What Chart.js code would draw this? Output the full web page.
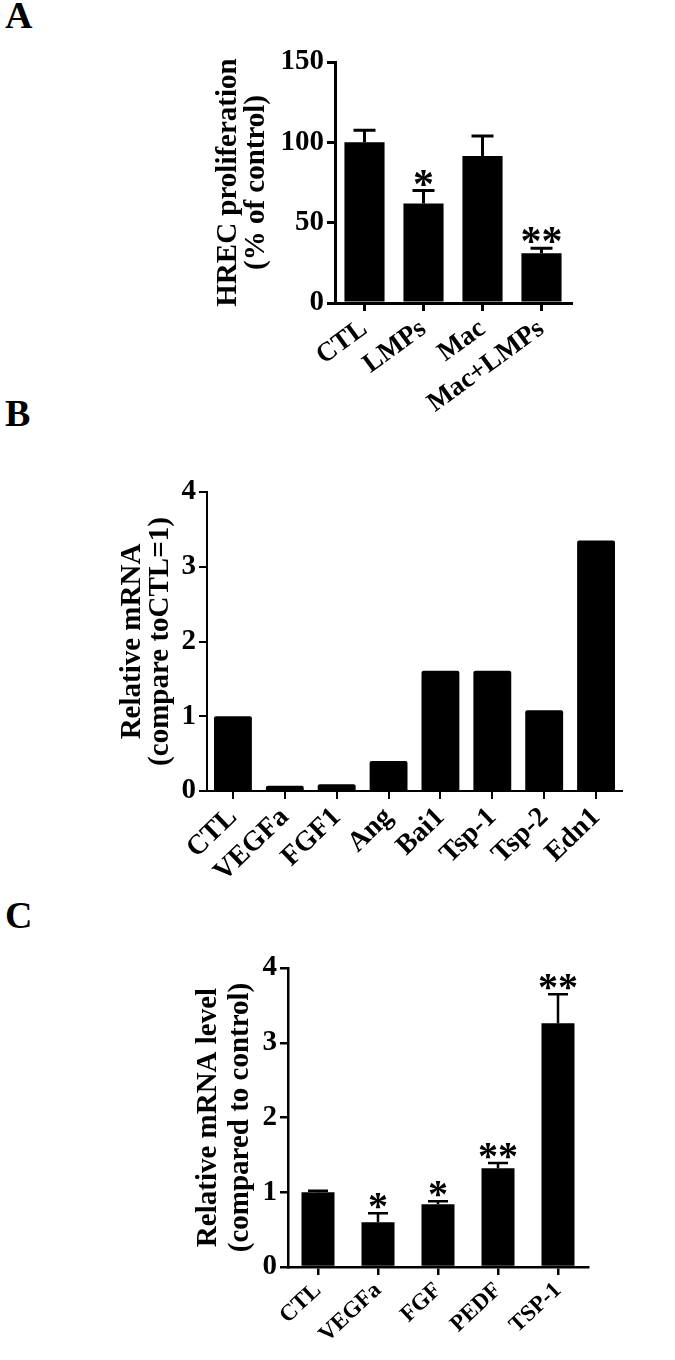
<!DOCTYPE html>
<html>
<head>
<meta charset="utf-8">
<script src="https://cdn.jsdelivr.net/npm/chart.js@4.4.1/dist/chart.umd.min.js"></script>
<style>
  body { margin: 0; background: #fff; }
  #wrap { position: relative; width: 675px; height: 1360px; overflow: hidden; }
  canvas { position: absolute; left: 0; }
  .tag { position: absolute; left: 5px; font: bold 38px 'Liberation Serif', 'Times New Roman', serif; line-height: 38px; color: #000; }
</style>
</head>
<body>
<div id="wrap">
  <div class="tag" style="top:-4px">A</div>
  <div class="tag" style="top:394px">B</div>
  <div class="tag" style="top:896px">C</div>
  <canvas id="chartA" style="top:0px"></canvas>
  <canvas id="chartB" style="top:420px"></canvas>
  <canvas id="chartC" style="top:900px"></canvas>
</div>
<script>
// panel A - HREC proliferation
const catA = ['CTL', 'LMPs', 'Mac', 'Mac+LMPs'];
const valA = [100, 62, 91.5, 31];
const errA = [107.5, 70, 104, 34];
const starA = ['', '*', '', '**'];
const ticksA = [0, 50, 100, 150];

// panel B - relative mRNA
const catB = ['CTL', 'VEGFa', 'FGF1', 'Ang', 'Bai1', 'Tsp-1', 'Tsp-2', 'Edn1'];
const valB = [1.0, 0.07, 0.09, 0.40, 1.61, 1.61, 1.08, 3.35];
const ticksB = [0, 1, 2, 3, 4];

// panel C - relative mRNA level
const catC = ['CTL', 'VEGFa', 'FGF', 'PEDF', 'TSP-1'];
const valC = [1.0, 0.60, 0.84, 1.32, 3.26];
const errC = [1.02, 0.72, 0.88, 1.39, 3.65];
const starC = ['', '*', '*', '**', '**'];
const ticksC = [0, 1, 2, 3, 4];

const serif = "'Liberation Serif', 'Times New Roman', serif";

const errorBars = {
	id: 'errorBars',
	afterDatasetsDraw(chart, args, opts) {
		if (!opts.err) return;
		const ctx = chart.ctx;
		const y = chart.scales.y;
		const meta = chart.getDatasetMeta(0);
		ctx.save();
		ctx.strokeStyle = '#000';
		ctx.fillStyle = '#000';
		ctx.lineWidth = opts.lineWidth;
		opts.err.forEach((e, i) => {
			const bar = meta.data[i];
			const top = y.getPixelForValue(e);
			ctx.beginPath();
			ctx.moveTo(bar.x, bar.y);
			ctx.lineTo(bar.x, top);
			ctx.moveTo(bar.x - opts.cap / 2, top);
			ctx.lineTo(bar.x + opts.cap / 2, top);
			ctx.stroke();
			const s = opts.stars[i];
			if (s) {
				ctx.font = 'bold ' + opts.starSize + 'px ' + serif;
				ctx.textAlign = 'center';
				ctx.textBaseline = 'alphabetic';
				const m = ctx.measureText(s);
				ctx.fillText(s, bar.x, top - opts.gap - m.actualBoundingBoxDescent);
			}
		});
		ctx.restore();
	}
};

function makePanel(id, p) {
	const canvas = document.getElementById(id);
	canvas.width = 675;
	canvas.height = p.height;
	canvas.style.width = '675px';
	canvas.style.height = p.height + 'px';

	const config = {
		type: 'bar',
		data: {
			labels: p.labels,
			datasets: [{
				data: p.values,
				backgroundColor: '#000',
				borderWidth: 0,
				borderRadius: p.radius || 0,
				barPercentage: p.barPct,
				categoryPercentage: 1
			}]
		},
		options: {
			responsive: false,
			animation: false,
			layout: { padding: { left: p.left, top: p.top, right: 675 - p.right, bottom: 0 } },
			plugins: {
				legend: { display: false },
				tooltip: { enabled: false },
				errorBars: { err: p.err, stars: p.stars, cap: p.cap, lineWidth: p.lw, starSize: p.starSize, gap: p.gap }
			},
			scales: {
				x: {
					afterFit: s => { s.height = p.height - p.bottom; },
					grid: { display: true, drawOnChartArea: false, offset: false, color: '#000', lineWidth: p.lw, tickLength: 8 },
					border: { display: true, color: '#000', width: p.lw },
					ticks: {
						color: '#000', autoSkip: false, padding: 2,
						maxRotation: p.rot, minRotation: p.rot,
						font: { family: serif, weight: 'bold', size: p.xFont }
					}
				},
				y: {
					min: p.ticks[0],
					max: p.ticks[p.ticks.length - 1],
					afterFit: s => { s.width = p.axisX - p.left; },
					afterBuildTicks: s => { s.ticks = p.ticks.map(v => ({ value: v })); },
					grid: { display: true, drawOnChartArea: false, color: '#000', lineWidth: p.lw, tickLength: 8 },
					border: { display: true, color: '#000', width: p.lw },
					ticks: { color: '#000', padding: 3, font: { family: serif, weight: 'bold', size: p.yFont } },
					title: {
						display: true,
						text: p.title,
						color: '#000',
						padding: 0,
						font: { family: serif, weight: 'bold', size: 29, lineHeight: p.titleLH }
					}
				}
			}
		},
		plugins: [errorBars]
	};
	new Chart(canvas.getContext('2d'), config);
}

makePanel('chartA', {
	height: 420, labels: catA, values: valA, err: errA, stars: starA, ticks: ticksA,
	left: 214, axisX: 335, right: 571, top: 62, bottom: 303,
	barPct: 0.68, lw: 3, cap: 22, starSize: 42, gap: 5,
	rot: 36, xFont: 27, yFont: 29,
	title: ['HREC proliferation', '(% of control)'], titleLH: 0.98
});

makePanel('chartB', {
	height: 480, labels: catB, values: valB, ticks: ticksB,
	left: 118, axisX: 207, right: 622, top: 72, bottom: 371,
	barPct: 0.73, lw: 2, radius: 2,
	rot: 44, xFont: 28, yFont: 29,
	title: ['Relative mRNA', '(compare toCTL=1)'], titleLH: 0.98
});

makePanel('chartC', {
	height: 460, labels: catC, values: valC, err: errC, stars: starC, ticks: ticksC,
	left: 192, axisX: 288, right: 588, top: 68, bottom: 367,
	barPct: 0.55, lw: 2.5, cap: 20, starSize: 40, gap: 4,
	rot: 43, xFont: 23, yFont: 29,
	title: ['Relative mRNA level', '(compared to control)'], titleLH: 1.12
});
</script>
</body>
</html>
